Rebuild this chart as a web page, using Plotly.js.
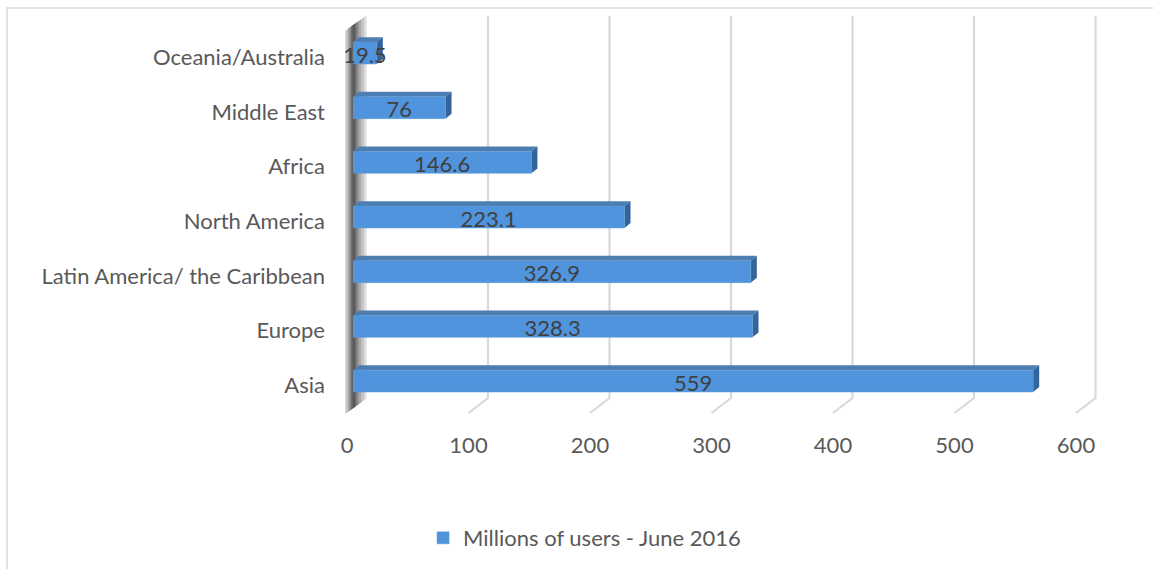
<!DOCTYPE html>
<html>
<head>
<meta charset="utf-8">
<script src="https://cdn.plot.ly/plotly-3.0.1.min.js"></script>
<style>html,body{margin:0;padding:0;background:#fff;}#chart{width:1153px;height:569px;}</style>
</head>
<body>
<div id="chart"></div>
<script>
// ---- data ----
const categories = ['Asia', 'Europe', 'Latin America/ the Caribbean', 'North America', 'Africa', 'Middle East', 'Oceania/Australia'];
const users = [559, 328.3, 326.9, 223.1, 146.6, 76, 19.5];
const valueLabels = ['559', '328.3', '326.9', '223.1', '146.6', '76', '19.5'];
const tickValues = [0, 100, 200, 300, 400, 500, 600];
const seriesName = 'Millions of users - June 2016';

// ---- layout geometry (pixels) ----
const W = 1153, H = 569;
const px = x => x / W;
const py = y => 1 - y / H;
const FONT = 'Lato, "Open Sans", sans-serif';

const barX = [353, 1083];     // bar plane 0..600
const frontX = [347, 1076];   // floor front edge 0..600
const backX = [366.5, 1095.5];// back wall 0..600
const backTop = 16, backBottom = 398, frontBottom = 413;
const xMax = 600;
const mapX = (r, v) => r[0] + (r[1] - r[0]) * v / xMax;

const idx = categories.map((c, i) => i);
const halfW = 0.2, depthX = 5, depthY = 0.09;
const labelShift = 0.075; // labels sit slightly below bar centres

const shapes = [];
// frame
shapes.push({type:'rect', xref:'paper', yref:'paper', x0:px(7), x1:px(1200), y0:py(8), y1:py(600),
  line:{color:'#d9d9d9', width:1.5}, fillcolor:'rgba(0,0,0,0)', layer:'below'});
// back wall gridlines + floor lines
tickValues.forEach(v => {
  if (v === 0) return;
  const bx = mapX(backX, v), fx = mapX(frontX, v);
  shapes.push({type:'path', xref:'paper', yref:'paper', layer:'below',
    path:`M${px(bx)},${py(backTop)} L${px(bx)},${py(backBottom)} L${px(fx)},${py(frontBottom)}`,
    line:{color:'#d9d9d9', width:2.2}});
});
// left side wall with gradient-like layering
const slope = 0.72;
const wall = (l, r, c) => ({type:'path', xref:'paper', yref:'paper', layer:'below', line:{width:0}, fillcolor:c,
  path:`M${px(l)},${py(31 - (l-345)*slope)} L${px(r)},${py(31 - (r-345)*slope)} L${px(r)},${py(414 - (r-345)*slope)} L${px(l)},${py(414 - (l-345)*slope)} Z`});
shapes.push(wall(345, 366.5, '#dcdcdc'));
shapes.push(wall(346, 364, '#c4c4c4'));
shapes.push(wall(348, 361, '#a8a8a8'));
shapes.push(wall(349.5, 358.5, '#8a8a8a'));
shapes.push(wall(351, 356.5, '#6e6e6e'));
shapes.push(wall(352.5, 355, '#5a5a5a'));

// 3D faces of bars (top and side), in data coordinates
idx.forEach(i => {
  const v = users[i];
  shapes.push({type:'path', xref:'x', yref:'y', layer:'below', line:{width:0}, fillcolor:'#4e7db2',
    path:`M0,${i+halfW} L${v},${i+halfW} L${v+depthX},${i+halfW+depthY} L${depthX},${i+halfW+depthY} Z`});
  shapes.push({type:'path', xref:'x', yref:'y', layer:'below', line:{width:0}, fillcolor:'#33649b',
    path:`M${v},${i-halfW} L${v+depthX},${i-halfW+depthY} L${v+depthX},${i+halfW+depthY} L${v},${i+halfW} Z`});
});

const traces = [
  {type:'bar', orientation:'h', x:users, y:idx, name:seriesName, width:2*halfW,
   marker:{color:'#4f94dc', line:{color:'#5b9bd5', width:0.5}},
   textposition:'none', hoverinfo:'x+y', showlegend:true},
  {type:'scatter', mode:'text', x:users.map(v => v / 2), y:idx, yaxis:'y2', text:valueLabels,
   textposition:'middle center', textfont:{family:FONT, size:22, color:'#404040'},
   showlegend:false, hoverinfo:'skip', cliponaxis:false},
  {type:'scatter', x:[], y:[], xaxis:'x2', yaxis:'y', showlegend:false, hoverinfo:'skip'}
];

const layout = {
  width:W, height:H, margin:{l:0, r:0, t:0, b:0},
  paper_bgcolor:'#ffffff', plot_bgcolor:'rgba(0,0,0,0)',
  font:{family:FONT, color:'#595959'},
  xaxis:{domain:[px(barX[0]), px(barX[1])], range:[0, xMax], showgrid:false, zeroline:false,
         showticklabels:false, ticks:'', fixedrange:true},
  xaxis2:{domain:[px(frontX[0]), px(frontX[1])], range:[0, xMax], anchor:'free', position:py(frontBottom),
          tickvals:tickValues, ticktext:tickValues.map(String), showgrid:false, zeroline:false, ticks:'',
          ticklabelstandoff:17, tickfont:{family:FONT, size:22, color:'#595959'}, fixedrange:true},
  yaxis:{domain:[py(408.4), py(25.7)], range:[-0.5, 6.5], showticklabels:false,
         showgrid:false, zeroline:false, ticks:'', fixedrange:true},
  yaxis2:{overlaying:'y', anchor:'x', side:'left', range:[-0.5 + labelShift, 6.5 + labelShift],
          tickvals:idx, ticktext:categories, showgrid:false, zeroline:false, ticks:'', ticklabelstandoff:27,
          tickfont:{family:FONT, size:22, color:'#595959'}, fixedrange:true},
  shapes:shapes,
  showlegend:true,
  legend:{orientation:'h', x:0.507, xanchor:'center', y:py(538), yanchor:'middle',
          font:{family:FONT, size:22, color:'#595959'}, bgcolor:'rgba(0,0,0,0)'},
  bargap:0
};

Plotly.newPlot('chart', traces, layout, {displayModeBar:false, staticPlot:true});
</script>
</body>
</html>
